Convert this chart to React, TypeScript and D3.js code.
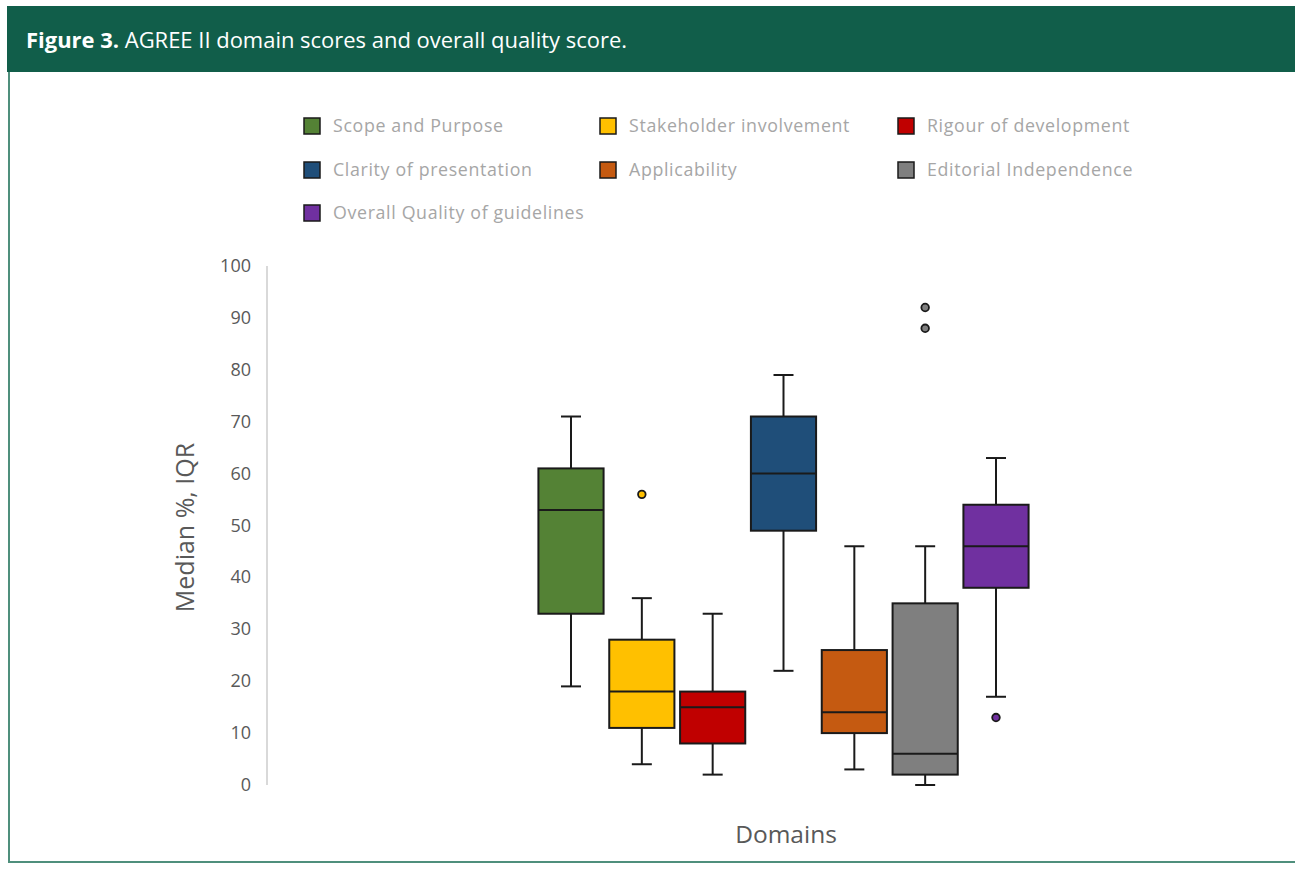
import React from "react";
import * as d3 from "d3";

const domains = [
  "Scope and Purpose",
  "Stakeholder involvement",
  "Rigour of development",
  "Clarity of presentation",
  "Applicability",
  "Editorial Independence",
  "Overall Quality of guidelines",
];
const colors = ["#548235", "#FFC000", "#C00000", "#1F4E79", "#C55A11", "#7F7F7F", "#7030A0"];
const mins = [19, 4, 2, 22, 3, 0, 17];
const q1s = [33, 11, 8, 49, 10, 2, 38];
const medians = [53, 18, 15, 60, 14, 6, 46];
const q3s = [61, 28, 18, 71, 26, 35, 54];
const maxs = [71, 36, 33, 79, 46, 46, 63];
const outliers: number[][] = [[], [56], [], [], [], [92, 88], [13]];
const yTicks = [0, 10, 20, 30, 40, 50, 60, 70, 80, 90, 100];

const W = 1295;
const H = 869;

export default function App() {
  const y = d3.scaleLinear().domain([0, 100]).range([785, 266]);
  const x = d3
    .scaleBand<string>()
    .domain(domains)
    .range([537, 1030])
    .paddingInner(0.08)
    .paddingOuter(0.02);
  const bw = x.bandwidth();
  const font = "'Open Sans', sans-serif";
  const legendCols = [304, 600, 898];
  const legendRows = [126, 170, 213];

  return (
    <svg
      width={W}
      height={H}
      style={{ position: "absolute", left: 0, top: 0, background: "#fff" }}
      fontFamily={font}
    >
      <rect x={7} y={6} width={W - 7} height={66} fill="#115E4A" />
      <text x={26} y={48} fill="#fff" fontSize={21} textLength={601} lengthAdjust="spacingAndGlyphs">
        <tspan fontWeight="bold">Figure 3.</tspan>
        <tspan> AGREE II domain scores and overall quality score.</tspan>
      </text>
      <line x1={9} x2={9} y1={72} y2={862} stroke="#4F8F7C" strokeWidth={2} />
      <line x1={8} x2={W} y1={862} y2={862} stroke="#4F8F7C" strokeWidth={2} />

      {domains.map((d, i) => {
        const cx = legendCols[i % 3];
        const cy = legendRows[Math.floor(i / 3)];
        return (
          <g key={d}>
            <rect x={cx} y={cy - 8} width={16} height={16} fill={colors[i]} stroke="#1a1a1a" strokeWidth={1.5} />
            <text x={cx + 29} y={cy + 6} fill="#A6A6A6" fontSize={17.8} letterSpacing={0.65}>
              {d}
            </text>
          </g>
        );
      })}

      <line x1={267} x2={267} y1={y(100)} y2={y(0)} stroke="#D9D9D9" strokeWidth={2} />
      {yTicks.map((t) => (
        <text key={t} x={251} y={y(t) + 6} textAnchor="end" fill="#595959" fontSize={18}>
          {t}
        </text>
      ))}
      <text
        transform={`translate(194,${y(50) + 2}) rotate(-90)`}
        textAnchor="middle"
        fill="#595959"
        fontSize={25}
      >
        Median %, IQR
      </text>
      <text x={786} y={843} textAnchor="middle" fill="#595959" fontSize={24.5}>
        Domains
      </text>

      {domains.map((d, i) => {
        const x0 = x(d)!;
        const cx = x0 + bw / 2;
        return (
          <g key={d} stroke="#1a1a1a" strokeWidth={2}>
            <line x1={cx} x2={cx} y1={y(maxs[i])} y2={y(q3s[i])} />
            <line x1={cx} x2={cx} y1={y(q1s[i])} y2={y(mins[i])} />
            <line x1={cx - 10} x2={cx + 10} y1={y(maxs[i])} y2={y(maxs[i])} />
            <line x1={cx - 10} x2={cx + 10} y1={y(mins[i])} y2={y(mins[i])} />
            <rect x={x0} y={y(q3s[i])} width={bw} height={y(q1s[i]) - y(q3s[i])} fill={colors[i]} />
            <line x1={x0} x2={x0 + bw} y1={y(medians[i])} y2={y(medians[i])} />
            {outliers[i].map((o, j) => (
              <circle key={j} cx={cx} cy={y(o)} r={3.8} fill={colors[i]} strokeWidth={1.8} />
            ))}
          </g>
        );
      })}
    </svg>
  );
}
